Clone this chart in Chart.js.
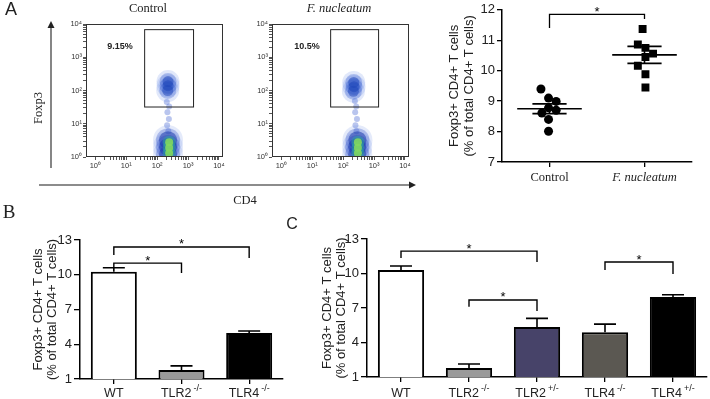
<!DOCTYPE html>
<html>
<head>
<meta charset="utf-8">
<title>Foxp3+ CD4+ T cells</title>
<script src="https://cdn.jsdelivr.net/npm/chart.js@4.4.1/dist/chart.umd.min.js"></script>
<style>
  html, body { margin: 0; padding: 0; background: #fff; }
  #fig { position: relative; width: 710px; height: 399px; overflow: hidden; }
  #fig canvas { position: absolute; left: 0; top: 0; }
  .t { position: absolute; transform: translate(-50%, -50%); white-space: nowrap; color: #222; }
  .serif { font-family: "Liberation Serif", "Times New Roman", serif; }
  .sans { font-family: "Liberation Sans", Arial, sans-serif; }
</style>
</head>
<body>
<div id="fig">
  <canvas id="flowCtrl" width="710" height="399"></canvas>
  <canvas id="flowFuso" width="710" height="399"></canvas>
  <canvas id="dotPlot" width="710" height="399"></canvas>
  <canvas id="barB" width="710" height="399"></canvas>
  <canvas id="barC" width="710" height="399"></canvas>
  <svg width="710" height="399" style="position:absolute;left:0;top:0">
    <line x1="51" y1="168" x2="51" y2="27" stroke="#444" stroke-width="1.3"/>
    <polygon points="51,21 47.5,28 54.5,28" fill="#222"/>
    <line x1="39" y1="185" x2="410" y2="185" stroke="#666" stroke-width="1.6"/>
    <polygon points="416,185 409,181.5 409,188.5" fill="#222"/>
  </svg>
  <div class="t sans" style="left:11px;top:9px;font-size:18px">A</div>
  <div class="t serif" style="left:9px;top:212px;font-size:19px">B</div>
  <div class="t sans" style="left:292px;top:224px;font-size:16px">C</div>
  <div class="t serif" style="left:38px;top:108px;font-size:12.5px;transform:translate(-50%,-50%) rotate(-90deg)">Foxp3</div>
  <div class="t serif" style="left:245px;top:200px;font-size:12.5px">CD4</div>
</div>
<script>
const W = 710, H = 399;
const SANS = '"Liberation Sans", Arial, sans-serif';
const SERIF = '"Liberation Serif", "Times New Roman", serif';

// ---- panel A, flow plots (CD4 on x, Foxp3 on y, log scale) ----
const flowTitles = ['Control', 'F. nucleatum'];
const flowTitleX = [148, 339];
const flowPercents = ['9.15%', '10.5%'];
const flowPercentAt = [[6.3, 2040], [6.8, 2040]];
const gateCD4 = [[38, 1450], [38, 1350]];
const gateFoxp3 = [[33, 7000], [33, 7000]];
const lowerCtrl = [[225, 1.2], [225, 2.0], [225, 3.2]];
const coreCtrl = [[245, 1.3], [245, 1.9], [245, 2.8]];
const upperCtrl = [[220, 100], [225, 140], [225, 185]];
const bridgeCtrl = [[230, 6], [210, 9], [240, 14], [215, 22], [245, 33], [205, 45]];
const lowerFuso = [[285, 1.2], [285, 2.0], [290, 3.2]];
const coreFuso = [[300, 1.3], [300, 1.9], [300, 2.8]];
const upperFuso = [[215, 95], [225, 130], [220, 175]];
const bridgeFuso = [[270, 6], [250, 9], [280, 14], [245, 22], [265, 33], [240, 48]];
const decadeSup = ['\u2070', '\u00b9', '\u00b2', '\u00b3', '\u2074'];

// ---- panel A, dot plot ----
const dotGroups = ['Control', 'F. nucleatum'];
const controlVals = [9.40, 9.10, 8.99, 8.78, 8.70, 8.61, 8.40, 8.01];
const controlJitter = [-0.09, -0.01, 0.07, -0.01, 0.07, -0.08, -0.01, -0.01];
const fusoVals = [11.37, 10.86, 10.75, 10.56, 10.45, 10.16, 9.88, 9.45];
const fusoJitter = [-0.02, -0.07, 0.01, 0.09, 0.01, -0.07, 0.01, 0.01];
const dotMean = [8.75, 10.52];
const dotSem = [0.16, 0.28];
const dotBracket = [[0, 1, 11.85, 11.4, 11.7]];

// ---- panels B and C, bars ----
const yTitle = ['Foxp3+ CD4+ T cells', '(% of total CD4+ T cells)'];
const barTicks = [1, 4, 7, 10, 13];
const groupsB = ['WT', 'TLR2', 'TLR4'];
const supB = ['', '-/-', '-/-'];
const valuesB = [10.25, 1.78, 4.97];
const errorsB = [0.35, 0.35, 0.17];
const bracketsB = [[0, 2, 12.4, 11.7, 11.45], [0, 1, 11.0, 10.6, 10.15]];
const groupsC = ['WT', 'TLR2', 'TLR2', 'TLR4', 'TLR4'];
const supC = ['', '-/-', '+/-', '-/-', '+/-'];
const valuesC = [10.3, 1.78, 5.35, 4.9, 7.95];
const errorsC = [0.35, 0.35, 0.75, 0.7, 0.2];
const bracketsC = [[0, 2, 11.95, 11.35, 11.0], [1, 2, 7.7, 7.1, 6.75], [3, 4, 11.0, 10.3, 9.95]];

const fig = document.getElementById('fig');
flowTitles.forEach((t, i) => {
  const d = document.createElement('div');
  d.className = 't serif';
  d.style.cssText = 'left:' + flowTitleX[i] + 'px;top:8px;font-size:12.5px;' + (i === 1 ? 'font-style:italic' : '');
  d.textContent = t;
  fig.appendChild(d);
});

function pad(l, t, r, b, yw, xh) {
  return { left: l - yw, top: t, right: W - r, bottom: H - b - xh };
}

function drawBracket(ctx, xs, ys, br) {
  const [i, j, top, dl, dr] = br;
  const x1 = xs.getPixelForValue(i), x2 = xs.getPixelForValue(j);
  const yT = ys.getPixelForValue(top);
  ctx.beginPath();
  ctx.moveTo(x1, ys.getPixelForValue(dl));
  ctx.lineTo(x1, yT);
  ctx.lineTo(x2, yT);
  ctx.lineTo(x2, ys.getPixelForValue(dr));
  ctx.stroke();
  ctx.font = '13px ' + SANS;
  ctx.textAlign = 'center';
  ctx.textBaseline = 'alphabetic';
  ctx.fillText('*', (x1 + x2) / 2, yT + 1.5);
}

function logTicks(scale) {
  const t = [];
  for (let k = 0; k < 4; k++) for (let m = 1; m < 10; m++) t.push({ value: m * Math.pow(10, k) });
  t.push({ value: 10000 });
  scale.ticks = t.filter(v => v.value >= scale.min && v.value <= scale.max);
}
function logLabel(v) {
  const e = Math.log10(v);
  return Math.abs(e - Math.round(e)) < 1e-6 ? '10' + decadeSup[Math.round(e)] : '';
}

function flowChart(id, area, c, k) {
  const deco = {
    id: 'flowDeco',
    afterDatasetsDraw(chart) {
      const { ctx, chartArea: a, scales: { x, y } } = chart;
      ctx.save();
      ctx.strokeStyle = '#333';
      ctx.lineWidth = 1;
      ctx.strokeRect(a.left + 0.5, a.top + 0.5, a.width - 1, a.height - 1);
      const gx1 = x.getPixelForValue(gateCD4[k][0]), gx2 = x.getPixelForValue(gateCD4[k][1]);
      const gy1 = y.getPixelForValue(gateFoxp3[k][1]), gy2 = y.getPixelForValue(gateFoxp3[k][0]);
      ctx.strokeStyle = '#222';
      ctx.strokeRect(gx1 + 0.5, gy1 + 0.5, gx2 - gx1, gy2 - gy1);
      ctx.font = 'bold 9px ' + SANS;
      ctx.fillStyle = '#222';
      ctx.textAlign = 'center';
      ctx.textBaseline = 'middle';
      ctx.fillText(flowPercents[k], x.getPixelForValue(flowPercentAt[k][0]), y.getPixelForValue(flowPercentAt[k][1]));
      ctx.restore();
    }
  };
  const tickFont = { family: SANS, size: 7.5 };
  return new Chart(document.getElementById(id), {
    type: 'scatter',
    data: {
      datasets: [
        { data: c.core, pointRadius: 4, backgroundColor: 'rgba(130,215,95,0.9)' },
        { data: c.core, pointRadius: 6.5, backgroundColor: 'rgba(45,160,160,0.55)' },
        { data: c.upper, pointRadius: 5.5, backgroundColor: 'rgba(30,70,185,0.5)' },
        { data: c.lower, pointRadius: 9, backgroundColor: 'rgba(25,55,170,0.5)' },
        { data: c.upper, pointRadius: 8.5, backgroundColor: 'rgba(50,90,205,0.3)' },
        { data: c.lower, pointRadius: 12, backgroundColor: 'rgba(45,80,200,0.3)' },
        { data: c.upper, pointRadius: 11.5, backgroundColor: 'rgba(90,125,225,0.18)' },
        { data: c.lower, pointRadius: 15, backgroundColor: 'rgba(90,125,225,0.16)' },
        { data: c.bridge, pointRadius: 3, backgroundColor: 'rgba(55,90,205,0.35)' }
      ]
    },
    options: {
      responsive: false, animation: false, events: [], devicePixelRatio: 1,
      layout: { padding: pad(area[0], area[1], area[2], area[3], 26, 16) },
      elements: { point: { borderWidth: 0 } },
      plugins: { legend: { display: false }, tooltip: { enabled: false } },
      scales: {
        x: {
          type: 'logarithmic', min: 0.5, max: 13500,
          afterFit: s => { s.height = 16; },
          afterBuildTicks: logTicks,
          border: { display: false },
          grid: { drawOnChartArea: false, tickLength: 3, color: '#555' },
          ticks: { autoSkip: false, maxRotation: 0, padding: 1, font: tickFont, color: '#333', callback: logLabel }
        },
        y: {
          type: 'logarithmic', min: 1, max: 10000,
          afterFit: s => { s.width = 26; },
          afterBuildTicks: logTicks,
          border: { display: false },
          grid: { drawOnChartArea: false, tickLength: 3, color: '#555' },
          ticks: { autoSkip: false, padding: 1, font: tickFont, color: '#333', callback: logLabel }
        }
      }
    },
    plugins: [deco]
  });
}

flowChart('flowCtrl', [86, 24, 223, 157], { core: coreCtrl, lower: lowerCtrl, upper: upperCtrl, bridge: bridgeCtrl }, 0);
flowChart('flowFuso', [272, 24, 409, 157], { core: coreFuso, lower: lowerFuso, upper: upperFuso, bridge: bridgeFuso }, 1);

// ---- dot plot with mean and SEM ----
const meanSem = {
  id: 'meanSem',
  afterDatasetsDraw(chart) {
    const { ctx, scales: { x, y } } = chart;
    ctx.save();
    ctx.strokeStyle = '#000';
    ctx.fillStyle = '#000';
    ctx.lineWidth = 1.6;
    dotMean.forEach((m, i) => {
      const hi = y.getPixelForValue(m + dotSem[i]), lo = y.getPixelForValue(m - dotSem[i]);
      const seg = (w, py) => {
        ctx.beginPath();
        ctx.moveTo(x.getPixelForValue(i - w), py);
        ctx.lineTo(x.getPixelForValue(i + w), py);
        ctx.stroke();
      };
      seg(0.34, y.getPixelForValue(m));
      seg(0.18, hi);
      seg(0.18, lo);
      ctx.beginPath();
      ctx.moveTo(x.getPixelForValue(i), hi);
      ctx.lineTo(x.getPixelForValue(i), lo);
      ctx.stroke();
    });
    ctx.lineWidth = 1.3;
    dotBracket.forEach(b => drawBracket(ctx, x, y, b));
    ctx.restore();
  }
};

new Chart(document.getElementById('dotPlot'), {
  type: 'scatter',
  data: {
    datasets: [
      { data: controlVals.map((v, i) => ({ x: controlJitter[i], y: v })), pointStyle: 'circle', pointRadius: 4.5, backgroundColor: '#000' },
      { data: fusoVals.map((v, i) => ({ x: 1 + fusoJitter[i], y: v })), pointStyle: 'rect', pointRadius: 5.6, backgroundColor: '#000' }
    ]
  },
  options: {
    responsive: false, animation: false, events: [], devicePixelRatio: 1,
    layout: { padding: pad(502, 7, 692, 162, 56, 22) },
    elements: { point: { borderWidth: 0 } },
    plugins: { legend: { display: false }, tooltip: { enabled: false } },
    scales: {
      x: {
        type: 'linear', min: -0.5, max: 1.5,
        afterFit: s => { s.height = 22; },
        afterBuildTicks: s => { s.ticks = dotGroups.map((g, i) => ({ value: i })); },
        border: { color: '#000', width: 1.5 },
        grid: { drawOnChartArea: false, tickLength: 5, color: '#000', lineWidth: 1.3 },
        ticks: {
          padding: 3, color: '#222',
          callback: v => dotGroups[v],
          font: c => ({ family: SERIF, size: 12.5, style: c.index === 1 ? 'italic' : 'normal' })
        }
      },
      y: {
        min: 7, max: 12,
        afterFit: s => { s.width = 56; },
        border: { color: '#000', width: 1.5 },
        grid: { drawOnChartArea: false, tickLength: 5, color: '#000', lineWidth: 1.3 },
        ticks: { stepSize: 1, padding: 2, color: '#222', font: { family: SANS, size: 13 } },
        title: { display: true, text: yTitle, color: '#222', padding: { top: 0.5, bottom: 0 }, font: { family: SANS, size: 13, lineHeight: 1.15 } }
      }
    }
  },
  plugins: [meanSem]
});

// ---- bar charts ----
function barChart(id, area, yw, titleTop, labels, sups, values, errors, colors, brackets) {
  const extras = {
    id: 'barExtras',
    afterDatasetsDraw(chart) {
      const { ctx, scales: { x, y } } = chart;
      const bars = chart.getDatasetMeta(0).data;
      ctx.save();
      ctx.strokeStyle = '#000';
      ctx.fillStyle = '#000';
      ctx.lineWidth = 1.6;
      bars.forEach((bar, i) => {
        const yt = y.getPixelForValue(values[i]), ye = y.getPixelForValue(values[i] + errors[i]);
        ctx.beginPath();
        ctx.moveTo(bar.x, yt);
        ctx.lineTo(bar.x, ye);
        ctx.moveTo(bar.x - 11, ye);
        ctx.lineTo(bar.x + 11, ye);
        ctx.stroke();
      });
      ctx.lineWidth = 1.4;
      brackets.forEach(b => drawBracket(ctx, x, y, b));
      // category labels with superscript genotype
      ctx.fillStyle = '#222';
      ctx.textBaseline = 'alphabetic';
      ctx.textAlign = 'left';
      labels.forEach((lab, i) => {
        const cx = x.getPixelForValue(i);
        ctx.font = '12.5px ' + SANS;
        const w1 = ctx.measureText(lab).width;
        ctx.font = '9px ' + SANS;
        const w2 = sups[i] ? ctx.measureText(sups[i]).width + 2 : 0;
        const x0 = cx - (w1 + w2) / 2;
        ctx.font = '12.5px ' + SANS;
        ctx.fillText(lab, x0, 397);
        if (sups[i]) {
          ctx.font = '9px ' + SANS;
          ctx.fillText(sups[i], x0 + w1 + 2, 391);
        }
      });
      ctx.restore();
    }
  };
  return new Chart(document.getElementById(id), {
    type: 'bar',
    data: {
      labels: labels.map((l, i) => l + sups[i]),
      datasets: [{
        data: values,
        backgroundColor: colors,
        borderColor: '#000',
        borderWidth: 2,
        categoryPercentage: 1,
        barPercentage: 0.68
      }]
    },
    options: {
      responsive: false, animation: false, events: [], devicePixelRatio: 1,
      layout: { padding: pad(area[0], area[1], area[2], area[3], yw, 22) },
      plugins: { legend: { display: false }, tooltip: { enabled: false } },
      scales: {
        x: {
          afterFit: s => { s.height = 22; },
          border: { color: '#000', width: 1.5 },
          grid: { drawOnChartArea: false, offset: false, tickLength: 5, color: '#000', lineWidth: 1.3 },
          ticks: { display: false }
        },
        y: {
          min: 1, max: 13,
          afterFit: s => { s.width = yw; },
          afterBuildTicks: s => { s.ticks = barTicks.map(v => ({ value: v })); },
          border: { color: '#000', width: 1.5 },
          grid: { drawOnChartArea: false, tickLength: 6, color: '#000', lineWidth: 1.3 },
          ticks: { padding: 2, color: '#222', font: { family: SANS, size: 13 } },
          title: { display: true, text: yTitle, color: '#222', padding: { top: titleTop, bottom: 0 }, font: { family: SANS, size: 13, lineHeight: 1.08 } }
        }
      }
    },
    plugins: [extras]
  });
}

barChart('barB', [80, 240, 283, 379], 50, 1, groupsB, supB, valuesB, errorsB,
  ['#ffffff', '#999999', '#000000'], bracketsB);
barChart('barC', [367, 239, 707, 377], 47, 0, groupsC, supC, valuesC, errorsC,
  ['#ffffff', '#9a9a9a', '#474369', '#5b5852', '#000000'], bracketsC);
</script>
</body>
</html>
